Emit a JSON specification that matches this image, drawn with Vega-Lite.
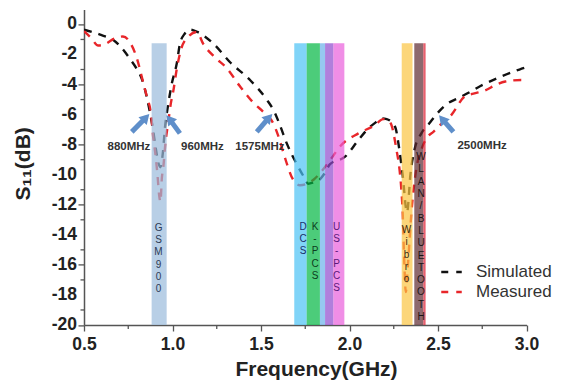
{
  "$schema": "https://vega.github.io/schema/vega-lite/v6.json",
  "width": 442.5,
  "height": 315.6,
  "autosize": {"type": "none"},
  "padding": {"left": 84, "top": 9.4, "right": 43.5, "bottom": 59},
  "background": "white",
  "config": {
    "view": {"stroke": null},
    "font": "Liberation Sans",
    "axis": {"grid": false, "domainColor": "#555", "domainWidth": 1.5, "tickColor": "#555", "tickWidth": 1.3, "labelFont": "Liberation Sans", "labelFontWeight": "bold", "labelFontSize": 17.5, "labelColor": "#222", "titleFont": "Liberation Sans", "titleFontWeight": "bold", "titleFontSize": 21, "titleColor": "#222", "labelOverlap": false}
  },
  "resolve": {"scale": {"color": "independent", "fill": "independent"}, "legend": {"color": "independent", "fill": "independent"}},
  "datasets": {
    "curves": [
      {"f": 0.50, "s11": -0.35, "series": "Simulated"},
      {"f": 0.56, "s11": -0.55, "series": "Simulated"},
      {"f": 0.62, "s11": -0.8, "series": "Simulated"},
      {"f": 0.65, "s11": -0.92, "series": "Simulated"},
      {"f": 0.70, "s11": -1.4, "series": "Simulated"},
      {"f": 0.76, "s11": -2.3, "series": "Simulated"},
      {"f": 0.80, "s11": -3.0, "series": "Simulated"},
      {"f": 0.826, "s11": -3.6, "series": "Simulated"},
      {"f": 0.854, "s11": -4.8, "series": "Simulated"},
      {"f": 0.875, "s11": -6.0, "series": "Simulated"},
      {"f": 0.89, "s11": -7.0, "series": "Simulated"},
      {"f": 0.905, "s11": -8.2, "series": "Simulated"},
      {"f": 0.92, "s11": -9.2, "series": "Simulated"},
      {"f": 0.932, "s11": -9.5, "series": "Simulated"},
      {"f": 0.945, "s11": -8.6, "series": "Simulated"},
      {"f": 0.958, "s11": -6.8, "series": "Simulated"},
      {"f": 0.976, "s11": -5.3, "series": "Simulated"},
      {"f": 0.995, "s11": -4.0, "series": "Simulated"},
      {"f": 1.024, "s11": -2.6, "series": "Simulated"},
      {"f": 1.042, "s11": -1.3, "series": "Simulated"},
      {"f": 1.07, "s11": -0.6, "series": "Simulated"},
      {"f": 1.099, "s11": -0.35, "series": "Simulated"},
      {"f": 1.14, "s11": -0.5, "series": "Simulated"},
      {"f": 1.23, "s11": -1.27, "series": "Simulated"},
      {"f": 1.324, "s11": -2.5, "series": "Simulated"},
      {"f": 1.438, "s11": -3.7, "series": "Simulated"},
      {"f": 1.532, "s11": -5.0, "series": "Simulated"},
      {"f": 1.575, "s11": -5.8, "series": "Simulated"},
      {"f": 1.607, "s11": -6.7, "series": "Simulated"},
      {"f": 1.645, "s11": -7.9, "series": "Simulated"},
      {"f": 1.70, "s11": -9.25, "series": "Simulated"},
      {"f": 1.74, "s11": -10.1, "series": "Simulated"},
      {"f": 1.767, "s11": -10.6, "series": "Simulated"},
      {"f": 1.80, "s11": -10.5, "series": "Simulated"},
      {"f": 1.824, "s11": -10.4, "series": "Simulated"},
      {"f": 1.86, "s11": -9.9, "series": "Simulated"},
      {"f": 1.89, "s11": -9.3, "series": "Simulated"},
      {"f": 1.975, "s11": -8.8, "series": "Simulated"},
      {"f": 2.05, "s11": -7.7, "series": "Simulated"},
      {"f": 2.10, "s11": -7.0, "series": "Simulated"},
      {"f": 2.15, "s11": -6.5, "series": "Simulated"},
      {"f": 2.18, "s11": -6.25, "series": "Simulated"},
      {"f": 2.21, "s11": -6.3, "series": "Simulated"},
      {"f": 2.257, "s11": -6.8, "series": "Simulated"},
      {"f": 2.28, "s11": -8.2, "series": "Simulated"},
      {"f": 2.30, "s11": -10.0, "series": "Simulated"},
      {"f": 2.325, "s11": -12.5, "series": "Simulated"},
      {"f": 2.345, "s11": -9.9, "series": "Simulated"},
      {"f": 2.37, "s11": -8.2, "series": "Simulated"},
      {"f": 2.406, "s11": -7.25, "series": "Simulated"},
      {"f": 2.45, "s11": -6.6, "series": "Simulated"},
      {"f": 2.49, "s11": -6.0, "series": "Simulated"},
      {"f": 2.55, "s11": -5.3, "series": "Simulated"},
      {"f": 2.615, "s11": -4.9, "series": "Simulated"},
      {"f": 2.68, "s11": -4.5, "series": "Simulated"},
      {"f": 2.74, "s11": -4.1, "series": "Simulated"},
      {"f": 2.85, "s11": -3.5, "series": "Simulated"},
      {"f": 2.96, "s11": -3.0, "series": "Simulated"},
      {"f": 3.00, "s11": -2.85, "series": "Simulated"},
      {"f": 0.50, "s11": -0.45, "series": "Measured"},
      {"f": 0.54, "s11": -0.9, "series": "Measured"},
      {"f": 0.58, "s11": -1.4, "series": "Measured"},
      {"f": 0.62, "s11": -1.3, "series": "Measured"},
      {"f": 0.67, "s11": -0.95, "series": "Measured"},
      {"f": 0.72, "s11": -0.8, "series": "Measured"},
      {"f": 0.76, "s11": -1.2, "series": "Measured"},
      {"f": 0.80, "s11": -2.3, "series": "Measured"},
      {"f": 0.835, "s11": -3.9, "series": "Measured"},
      {"f": 0.855, "s11": -4.8, "series": "Measured"},
      {"f": 0.88, "s11": -6.1, "series": "Measured"},
      {"f": 0.89, "s11": -7.4, "series": "Measured"},
      {"f": 0.905, "s11": -8.8, "series": "Measured"},
      {"f": 0.915, "s11": -10.0, "series": "Measured"},
      {"f": 0.925, "s11": -11.4, "series": "Measured"},
      {"f": 0.932, "s11": -11.8, "series": "Measured"},
      {"f": 0.94, "s11": -10.2, "series": "Measured"},
      {"f": 0.948, "s11": -9.5, "series": "Measured"},
      {"f": 0.96, "s11": -7.9, "series": "Measured"},
      {"f": 0.976, "s11": -6.5, "series": "Measured"},
      {"f": 0.99, "s11": -5.3, "series": "Measured"},
      {"f": 1.005, "s11": -4.4, "series": "Measured"},
      {"f": 1.025, "s11": -2.9, "series": "Measured"},
      {"f": 1.05, "s11": -1.6, "series": "Measured"},
      {"f": 1.09, "s11": -0.8, "series": "Measured"},
      {"f": 1.137, "s11": -0.5, "series": "Measured"},
      {"f": 1.174, "s11": -1.3, "series": "Measured"},
      {"f": 1.24, "s11": -2.2, "series": "Measured"},
      {"f": 1.306, "s11": -2.9, "series": "Measured"},
      {"f": 1.38, "s11": -4.1, "series": "Measured"},
      {"f": 1.456, "s11": -5.2, "series": "Measured"},
      {"f": 1.52, "s11": -5.9, "series": "Measured"},
      {"f": 1.57, "s11": -6.6, "series": "Measured"},
      {"f": 1.60, "s11": -7.5, "series": "Measured"},
      {"f": 1.636, "s11": -8.9, "series": "Measured"},
      {"f": 1.68, "s11": -10.3, "series": "Measured"},
      {"f": 1.72, "s11": -10.7, "series": "Measured"},
      {"f": 1.76, "s11": -10.6, "series": "Measured"},
      {"f": 1.80, "s11": -10.3, "series": "Measured"},
      {"f": 1.84, "s11": -9.8, "series": "Measured"},
      {"f": 1.88, "s11": -9.2, "series": "Measured"},
      {"f": 1.956, "s11": -8.0, "series": "Measured"},
      {"f": 2.05, "s11": -7.25, "series": "Measured"},
      {"f": 2.144, "s11": -6.7, "series": "Measured"},
      {"f": 2.19, "s11": -6.3, "series": "Measured"},
      {"f": 2.22, "s11": -6.4, "series": "Measured"},
      {"f": 2.24, "s11": -6.8, "series": "Measured"},
      {"f": 2.264, "s11": -8.25, "series": "Measured"},
      {"f": 2.283, "s11": -9.7, "series": "Measured"},
      {"f": 2.293, "s11": -11.0, "series": "Measured"},
      {"f": 2.30, "s11": -12.4, "series": "Measured"},
      {"f": 2.31, "s11": -16.0, "series": "Measured"},
      {"f": 2.318, "s11": -17.8, "series": "Measured"},
      {"f": 2.33, "s11": -16.0, "series": "Measured"},
      {"f": 2.35, "s11": -12.5, "series": "Measured"},
      {"f": 2.375, "s11": -9.8, "series": "Measured"},
      {"f": 2.41, "s11": -8.2, "series": "Measured"},
      {"f": 2.44, "s11": -7.5, "series": "Measured"},
      {"f": 2.474, "s11": -7.15, "series": "Measured"},
      {"f": 2.52, "s11": -6.6, "series": "Measured"},
      {"f": 2.577, "s11": -6.0, "series": "Measured"},
      {"f": 2.65, "s11": -4.8, "series": "Measured"},
      {"f": 2.70, "s11": -4.6, "series": "Measured"},
      {"f": 2.765, "s11": -4.4, "series": "Measured"},
      {"f": 2.83, "s11": -4.0, "series": "Measured"},
      {"f": 2.88, "s11": -3.8, "series": "Measured"},
      {"f": 2.97, "s11": -3.7, "series": "Measured"},
      {"f": 3.00, "s11": -3.75, "series": "Measured"}
    ],
    "bands": [
      {"seg": "GSM900", "start": 0.882, "end": 0.967, "top": -1.25, "bottom": -20},
      {"seg": "DCS", "start": 1.688, "end": 1.758, "top": -1.25, "bottom": -20},
      {"seg": "K-PCS", "start": 1.758, "end": 1.833, "top": -1.25, "bottom": -20},
      {"seg": "DCS (upper)", "start": 1.833, "end": 1.862, "top": -1.25, "bottom": -20},
      {"seg": "DCS/US-PCS overlap", "start": 1.862, "end": 1.909, "top": -1.25, "bottom": -20},
      {"seg": "US-PCS", "start": 1.909, "end": 1.971, "top": -1.25, "bottom": -20},
      {"seg": "Wibro", "start": 2.295, "end": 2.356, "top": -1.25, "bottom": -20},
      {"seg": "WLAN/BLUETOOTH", "start": 2.366, "end": 2.417, "top": -1.25, "bottom": -20},
      {"seg": "WLAN edge", "start": 2.417, "end": 2.43, "top": -1.25, "bottom": -20}
    ],
    "bandLabels": [
      {"name": "GSM900", "text": "G\nS\nM\n9\n0\n0", "f": 0.921, "v": -13.2},
      {"name": "DCS", "text": "D\nC\nS", "f": 1.738, "v": -13.13},
      {"name": "K-PCS", "text": "K\n-\nP\nC\nS", "f": 1.805, "v": -13.13},
      {"name": "US-PCS", "text": "U\nS\n-\nP\nC\nS", "f": 1.927, "v": -13.13},
      {"name": "Wibro", "text": "W\ni\nb\nr\no", "f": 2.322, "v": -13.35},
      {"name": "WLAN/BLUETOOTH", "text": "W\nL\nA\nN\n/\nB\nL\nU\nE\nT\nO\nO\nT\nH", "f": 2.404, "v": -8.5}
    ],
    "arrows": [
      {"label": "880MHz", "ft": 0.77, "vt": -7.15, "fh": 0.85, "vh": -6.2, "dir": "right", "lf": 0.754, "lv": -8.14},
      {"label": "960MHz", "ft": 1.042, "vt": -7.25, "fh": 0.983, "vh": -6.3, "dir": "left", "lf": 1.169, "lv": -8.14},
      {"label": "1575MHz", "ft": 1.476, "vt": -7.15, "fh": 1.545, "vh": -6.2, "dir": "right", "lf": 1.494, "lv": -8.14},
      {"label": "2500MHz", "ft": 2.587, "vt": -7.15, "fh": 2.524, "vh": -6.3, "dir": "left", "lf": 2.749, "lv": -8.1}
    ],
    "minorY": [{"v": -19}, {"v": -17}, {"v": -15}, {"v": -13}, {"v": -11}, {"v": -9}, {"v": -7}, {"v": -5}, {"v": -3}, {"v": -1}],
    "minorX": [{"f": 0.75}, {"f": 1.25}, {"f": 1.75}, {"f": 2.25}, {"f": 2.75}],
    "yLabels": [{"v": -20, "lab": "-20"}, {"v": -18, "lab": "-18"}, {"v": -16, "lab": "-16"}, {"v": -14, "lab": "-14"}, {"v": -12, "lab": "-12"}, {"v": -10, "lab": "-10"}, {"v": -8, "lab": "-8"}, {"v": -6, "lab": "-6"}, {"v": -4, "lab": "-4"}, {"v": -2, "lab": "-2"}, {"v": 0, "lab": "0"}]
  },
  "layer": [
    {
      "data": {"name": "curves"},
      "mark": {"type": "line", "strokeDash": [8, 7], "strokeWidth": 2.4, "interpolate": "monotone", "clip": true},
      "encoding": {
        "x": {"field": "f", "type": "quantitative", "scale": {"domain": [0.5, 3.0], "nice": false, "zero": false},
          "axis": {"title": "Frequency(GHz)", "values": [0.5, 1.0, 1.5, 2.0, 2.5, 3.0], "format": ".1f", "tickSize": 6,
            "labelPadding": 4, "titleX": 232, "titleY": 44, "titleBaseline": "middle", "titleAlign": "center", "labelFlush": false, "labelOverlap": false}},
        "y": {"field": "s11", "type": "quantitative", "scale": {"domain": [-20, 1], "nice": false},
          "axis": {"title": "S₁₁(dB)", "values": [-20, -18, -16, -14, -12, -10, -8, -6, -4, -2, 0],
            "labels": false, "tickSize": 6,
            "titleX": -61, "titleY": 154, "titleAlign": "center", "titleBaseline": "middle"}},
        "color": {"field": "series", "type": "nominal", "scale": {"domain": ["Simulated", "Measured"], "range": ["#111111", "#e8262a"]},
          "legend": {"title": null, "orient": "none", "legendX": 356, "legendY": 251, "padding": 0, "symbolType": "stroke", "symbolSize": 420, "symbolStrokeWidth": 2.5, "symbolDash": [7, 8], "labelFontSize": 17, "labelColor": "#333", "labelFont": "Liberation Sans", "labelOffset": 13, "rowPadding": -1}}
      }
    },
    {
      "data": {"name": "yLabels"},
      "mark": {"type": "text", "align": "right", "baseline": "middle", "fontSize": 17.5, "fontWeight": "bold", "color": "#222", "font": "Liberation Sans", "clip": false, "xOffset": -7},
      "encoding": {
        "x": {"datum": 0.5, "type": "quantitative"},
        "y": {"field": "v", "type": "quantitative"},
        "text": {"field": "lab"}
      }
    },
    {
      "data": {"name": "minorY"},
      "mark": {"type": "rule", "color": "#555", "strokeWidth": 1.3, "clip": false, "xOffset": -3.5},
      "encoding": {
        "x": {"datum": 0.5, "type": "quantitative"},
        "x2": {"datum": 0.5},
        "y": {"field": "v", "type": "quantitative"}
      }
    },
    {
      "data": {"name": "minorX"},
      "mark": {"type": "rule", "color": "#555", "strokeWidth": 1.3, "clip": false, "y2Offset": 4},
      "encoding": {
        "x": {"field": "f", "type": "quantitative"},
        "y": {"datum": -20, "type": "quantitative"},
        "y2": {"datum": -20}
      }
    },
    {
      "mark": {"type": "rule", "color": "#3434c8", "strokeWidth": 1.2},
      "encoding": {"y": {"datum": -6, "type": "quantitative"}}
    },
    {
      "data": {"name": "bands"},
      "mark": {"type": "rect", "opacity": 0.7},
      "encoding": {
        "x": {"field": "start", "type": "quantitative"},
        "x2": {"field": "end"},
        "y": {"field": "top", "type": "quantitative"},
        "y2": {"field": "bottom"},
        "fill": {"field": "seg", "type": "nominal", "legend": null,
          "scale": {"domain": ["GSM900", "DCS", "K-PCS", "DCS (upper)", "DCS/US-PCS overlap", "US-PCS", "Wibro", "WLAN/BLUETOOTH", "WLAN edge"],
            "range": ["#9abadb", "#4ac2f5", "#00b641", "#69b0ea", "#8e48cd", "#ea5edb", "#fbc441", "#5c2a30", "#de1c30"]}}
      }
    },
    {
      "data": {"name": "bandLabels"},
      "mark": {"type": "text", "lineBreak": "\n", "lineHeight": 12.3, "fontSize": 10, "baseline": "top", "align": "center", "font": "Liberation Sans"},
      "encoding": {
        "x": {"field": "f", "type": "quantitative"},
        "y": {"field": "v", "type": "quantitative"},
        "text": {"field": "text"},
        "color": {"field": "name", "type": "nominal", "legend": null,
          "scale": {"domain": ["GSM900", "DCS", "K-PCS", "US-PCS", "Wibro", "WLAN/BLUETOOTH"],
            "range": ["#2b3a55", "#1a2f6a", "#0d3d20", "#5a1a7a", "#3a2a10", "#1e1414"]}}
      }
    },
    {
      "data": {"name": "arrows"},
      "mark": {"type": "rule", "color": "#5f8fca", "strokeWidth": 5, "strokeCap": "butt"},
      "encoding": {
        "x": {"field": "ft", "type": "quantitative"},
        "y": {"field": "vt", "type": "quantitative"},
        "x2": {"field": "fh"},
        "y2": {"field": "vh"}
      }
    },
    {
      "data": {"name": "arrows"},
      "transform": [{"filter": "datum.dir == 'right'"}],
      "mark": {"type": "point", "shape": "triangle-up", "filled": true, "color": "#5f8fca", "opacity": 1, "size": 130, "angle": 43},
      "encoding": {
        "x": {"field": "fh", "type": "quantitative"},
        "y": {"field": "vh", "type": "quantitative"}
      }
    },
    {
      "data": {"name": "arrows"},
      "transform": [{"filter": "datum.dir == 'left'"}],
      "mark": {"type": "point", "shape": "triangle-up", "filled": true, "color": "#5f8fca", "opacity": 1, "size": 130, "angle": -40},
      "encoding": {
        "x": {"field": "fh", "type": "quantitative"},
        "y": {"field": "vh", "type": "quantitative"}
      }
    },
    {
      "data": {"name": "arrows"},
      "mark": {"type": "text", "fontSize": 11.5, "fontWeight": "bold", "color": "#333", "align": "center", "baseline": "middle", "font": "Liberation Sans"},
      "encoding": {
        "x": {"field": "lf", "type": "quantitative"},
        "y": {"field": "lv", "type": "quantitative"},
        "text": {"field": "label"}
      }
    }
  ]
}
